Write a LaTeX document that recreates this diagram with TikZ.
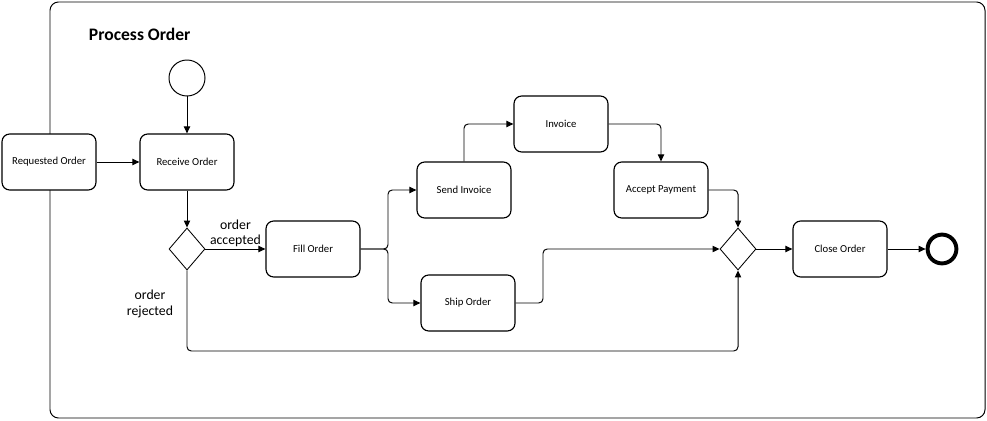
\documentclass[tikz,border=0pt]{standalone}
\usepackage{fontspec}
\setmainfont{Carlito}
\usetikzlibrary{arrows.meta,shapes.geometric}

\tikzset{
  task/.style={draw, line width=0.8pt, rounded corners=5.5pt, fill=white,
    minimum width=2.35cm, minimum height=1.4cm, font=\fontsize{7.6}{9}\selectfont},
  gateway/.style={draw, diamond, line width=0.6pt, fill=white, inner sep=0pt,
    minimum width=0.9cm, minimum height=1.05cm},
  startevent/.style={draw, circle, line width=0.7pt, minimum size=0.9cm, inner sep=0pt},
  endevent/.style={draw, circle, line width=2.8pt, minimum size=0.72cm, inner sep=0pt},
  flow/.style={-{Triangle[length=5pt,width=4.5pt]}, line width=0.7pt, rounded corners=3pt},
  flowlabel/.style={align=center, font=\fontsize{9.8}{11}\selectfont, inner sep=1pt}
}

\begin{document}
\begin{tikzpicture}[x=0.025cm, y=-0.025cm]
  \useasboundingbox (0,0) rectangle (987,421);

  % pool
  \draw[line width=0.7pt, rounded corners=6pt] (50,2) rectangle (985,418);
  \node[anchor=west, font=\fontsize{12.5}{14}\selectfont\bfseries] (title) at (84,34) {Process Order};

  % events and tasks
  \node[startevent] (start) at (187,78) {};
  \node[task] (requested) at (49,162) {Requested Order};
  \node[task] (receive) at (187,162) {Receive Order};
  \node[gateway] (gwsplit) at (187,249) {};
  \node[task] (fill) at (313,249) {Fill Order};
  \node[task] (send) at (464,190) {Send Invoice};
  \node[task] (ship) at (468,303) {Ship Order};
  \node[task] (invoice) at (561,124) {Invoice};
  \node[task] (accept) at (661,190) {Accept Payment};
  \node[gateway] (gwjoin) at (738,249) {};
  \node[task] (close) at (840,249) {Close Order};
  \node[endevent] (end) at (942,249) {};

  \coordinate (split) at (388,249);
  \coordinate (bend) at (543,0);
  \coordinate (low) at (0,351);

  % sequence flows
  \draw[flow] (start) -- (receive);
  \draw[flow] (requested) -- (receive);
  \draw[flow] (receive) -- (gwsplit);
  \draw[flow] (gwsplit.east) -- node[flowlabel, above] (accepted) {order\\accepted} (fill.west);
  \draw[flow] (gwsplit.south) -- (gwsplit.south |- low) -| (gwjoin.south);
  \node[flowlabel] (rejected) at (150,304) {order\\rejected};
  \draw[flow] (fill.east) -- (split) |- (send.west);
  \draw[flow] (fill.east) -- (split) |- (ship.west);
  \draw[flow] (send.north) |- (invoice.west);
  \draw[flow] (invoice.east) -| (accept.north);
  \draw[flow] (accept.east) -| (gwjoin.north);
  \draw[flow] (ship.east) -- (ship.east -| bend) |- (gwjoin.west);
  \draw[flow] (gwjoin) -- (close);
  \draw[flow] (close) -- (end);
\end{tikzpicture}
\end{document}
